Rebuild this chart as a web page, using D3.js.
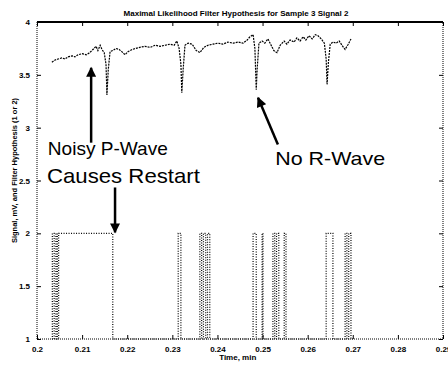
<!DOCTYPE html>
<html>
<head>
<meta charset="utf-8">
<script src="https://cdn.jsdelivr.net/npm/d3@7"></script>
<style>
  body { margin: 0; background: #fff; }
  svg { display: block; font-family: "Liberation Sans", Arial, sans-serif; }
</style>
</head>
<body>
<div id="chart"></div>
<script>
// Sinal (ECG) - tempo em min, valor em mV
var ecgTime = [0.2033,0.2040,0.2047,0.2055,0.2062,0.2069,0.2078,0.2084,0.2091,0.2100,0.2109,0.2117,0.2124,0.2131,0.2135,0.2140,0.2144,0.2149,0.2153,0.2155,0.2158,0.2162,0.2168,0.2175,0.2182,0.2188,0.2195,0.2202,0.2211,0.2219,0.2228,0.2239,0.2251,0.2262,0.2273,0.2284,0.2295,0.2304,0.2310,0.2315,0.2319,0.2321,0.2324,0.2328,0.2335,0.2344,0.2353,0.2361,0.2370,0.2379,0.2390,0.2401,0.2412,0.2423,0.2435,0.2446,0.2457,0.2466,0.2472,0.2479,0.2483,0.2486,0.2488,0.2492,0.2499,0.2505,0.2512,0.2519,0.2525,0.2532,0.2539,0.2548,0.2554,0.2561,0.2570,0.2576,0.2583,0.2590,0.2596,0.2603,0.2610,0.2617,0.2623,0.2630,0.2637,0.2641,0.2643,0.2646,0.2650,0.2656,0.2663,0.2670,0.2676,0.2683,0.2690,0.2696];
var ecgValue = [3.62,3.64,3.65,3.66,3.65,3.67,3.68,3.67,3.69,3.70,3.69,3.71,3.74,3.77,3.73,3.78,3.74,3.71,3.60,3.31,3.55,3.72,3.73,3.75,3.74,3.72,3.69,3.72,3.74,3.75,3.76,3.77,3.76,3.78,3.77,3.78,3.79,3.78,3.82,3.75,3.60,3.33,3.55,3.78,3.80,3.79,3.73,3.71,3.76,3.78,3.79,3.80,3.79,3.81,3.80,3.81,3.80,3.83,3.86,3.88,3.75,3.36,3.55,3.80,3.82,3.80,3.84,3.78,3.73,3.71,3.78,3.82,3.79,3.83,3.81,3.85,3.82,3.86,3.83,3.87,3.84,3.88,3.87,3.84,3.80,3.65,3.41,3.62,3.79,3.81,3.80,3.82,3.78,3.74,3.79,3.84];

// Hipotese do filtro (1 ou 2), degraus
var hypTime = [0.2033,0.2034,0.2038,0.2042,0.2045,0.2048,0.2168,0.2313,0.2319,0.2361,0.2365,0.2369,0.2374,0.2378,0.2383,0.2479,0.2486,0.2499,0.2501,0.2523,0.2527,0.2531,0.2536,0.2548,0.2552,0.2641,0.2656,0.2683,0.2687,0.2691,0.2696,0.2700];
var hypValue = [1,2,1,2,1,2,1,2,1,2,1,2,1,2,1,2,1,2,1,2,1,2,1,2,1,2,1,2,1,2,1,1];

// Eixos
var xTicks = [0.2,0.21,0.22,0.23,0.24,0.25,0.26,0.27,0.28,0.29];
var xTickLabels = ["0.2","0.21","0.22","0.23","0.24","0.25","0.26","0.27","0.28","0.29"];
var yTicks = [1,1.5,2,2.5,3,3.5,4];
var yTickLabels = ["1","1.5","2","2.5","3","3.5","4"];

var title = "Maximal Likelihood Filter Hypothesis for Sample 3 Signal 2";
var xTitle = "Time, min";
var yTitle = "Signal, mV, and Filter Hypothesis (1 or 2)";

// Anotacoes (em unidades de dados)
var notes = [
  {text: "Noisy P-Wave", t: 0.2024, v: 2.745, size: 19, len: 120},
  {text: "Causes Restart", t: 0.2022, v: 2.481, size: 21, len: 153},
  {text: "No R-Wave", t: 0.2528, v: 2.651, size: 19, len: 110}
];
var arrows = [
  {t0: 0.2120, v0: 2.858, t1: 0.2120, v1: 3.566},
  {t0: 0.2173, v0: 2.434, t1: 0.2173, v1: 2.009},
  {t0: 0.2534, v0: 2.840, t1: 0.2490, v1: 3.283}
];

var W = 448, H = 365;
var margin = {top: 22, right: 5, bottom: 26, left: 37};
var width = W - margin.left - margin.right;
var height = H - margin.top - margin.bottom;

var x = d3.scaleLinear().domain([0.2, 0.29]).range([0, width]);
var y = d3.scaleLinear().domain([1, 4]).range([height, 0]);

var svg = d3.select("#chart").append("svg")
  .attr("width", W).attr("height", H);
var g = svg.append("g")
  .attr("transform", "translate(" + margin.left + "," + margin.top + ")");

// Moldura
g.append("line").attr("x1", 0).attr("x2", width).attr("y1", 0).attr("y2", 0)
  .attr("stroke", "#000").attr("stroke-width", 2);
g.append("path")
  .attr("d", "M0,0V" + height + "H" + width + "V0")
  .attr("fill", "none").attr("stroke", "#000").attr("stroke-width", 1)
  .attr("stroke-dasharray", "1,1");

// Eixo x
var xAxis = g.append("g").attr("transform", "translate(0," + height + ")")
  .call(d3.axisBottom(x).tickValues(xTicks).tickSizeInner(-4).tickSizeOuter(0)
    .tickPadding(7).tickFormat(function(d, i) { return xTickLabels[i]; }));
xAxis.select(".domain").remove();
g.append("g")
  .call(d3.axisTop(x).tickValues(xTicks).tickSizeInner(-4).tickSizeOuter(0).tickFormat(""))
  .select(".domain").remove();

// Eixo y
var yAxis = g.append("g")
  .call(d3.axisLeft(y).tickValues(yTicks).tickSizeInner(-4).tickSizeOuter(0)
    .tickPadding(7).tickFormat(function(d, i) { return yTickLabels[i]; }));
yAxis.select(".domain").remove();
g.append("g").attr("transform", "translate(" + width + ",0)")
  .call(d3.axisRight(y).tickValues(yTicks).tickSizeInner(-4).tickSizeOuter(0).tickFormat(""))
  .select(".domain").remove();

g.selectAll(".tick text").attr("font-size", 8).attr("font-weight", "bold").attr("fill", "#000");
g.selectAll(".tick line").attr("stroke", "#000");

// Linha do sinal
var ecg = ecgTime.map(function(t, i) { return [t, ecgValue[i]]; });
g.append("path").datum(ecg)
  .attr("d", d3.line().x(function(d) { return x(d[0]); }).y(function(d) { return y(d[1]); }))
  .attr("fill", "none").attr("stroke", "#000").attr("stroke-width", 1.2)
  .attr("stroke-dasharray", "2,1");

// Hipotese (degraus)
var hyp = hypTime.map(function(t, i) { return [t, hypValue[i]]; });
g.append("path").datum(hyp)
  .attr("d", d3.line().curve(d3.curveStepAfter)
    .x(function(d) { return x(d[0]); }).y(function(d) { return y(d[1]); }))
  .attr("fill", "none").attr("stroke", "#000").attr("stroke-width", 1.2)
  .attr("stroke-dasharray", "1,1.5");

// Titulos
svg.append("text").attr("x", 236).attr("y", 16).attr("text-anchor", "middle")
  .attr("font-size", 8).attr("font-weight", "bold")
  .attr("textLength", 225).attr("lengthAdjust", "spacingAndGlyphs").text(title);
svg.append("text").attr("x", margin.left + x(0.2445)).attr("y", 360).attr("text-anchor", "middle")
  .attr("font-size", 8).attr("font-weight", "bold").text(xTitle);
svg.append("text").attr("transform", "translate(17," + (margin.top + height / 2 - 10) + ") rotate(-90)")
  .attr("text-anchor", "middle").attr("font-size", 7.5).attr("font-weight", "bold").text(yTitle);

// Setas
svg.append("defs").append("marker")
  .attr("id", "head").attr("viewBox", "0 0 10 10").attr("refX", 9).attr("refY", 5)
  .attr("markerWidth", 5).attr("markerHeight", 4).attr("orient", "auto")
  .append("path").attr("d", "M0,0L10,5L0,10z").attr("fill", "#000");
g.selectAll(".arrow").data(arrows).enter().append("line")
  .attr("class", "arrow")
  .attr("x1", function(d) { return x(d.t0); }).attr("y1", function(d) { return y(d.v0); })
  .attr("x2", function(d) { return x(d.t1); }).attr("y2", function(d) { return y(d.v1); })
  .attr("stroke", "#000").attr("stroke-width", 2.5).attr("marker-end", "url(#head)");

// Textos das anotacoes
g.selectAll(".note").data(notes).enter().append("text")
  .attr("class", "note")
  .attr("x", function(d) { return x(d.t); }).attr("y", function(d) { return y(d.v); })
  .attr("font-size", function(d) { return d.size; })
  .attr("textLength", function(d) { return d.len; }).attr("lengthAdjust", "spacingAndGlyphs")
  .text(function(d) { return d.text; });
</script>
</body>
</html>
